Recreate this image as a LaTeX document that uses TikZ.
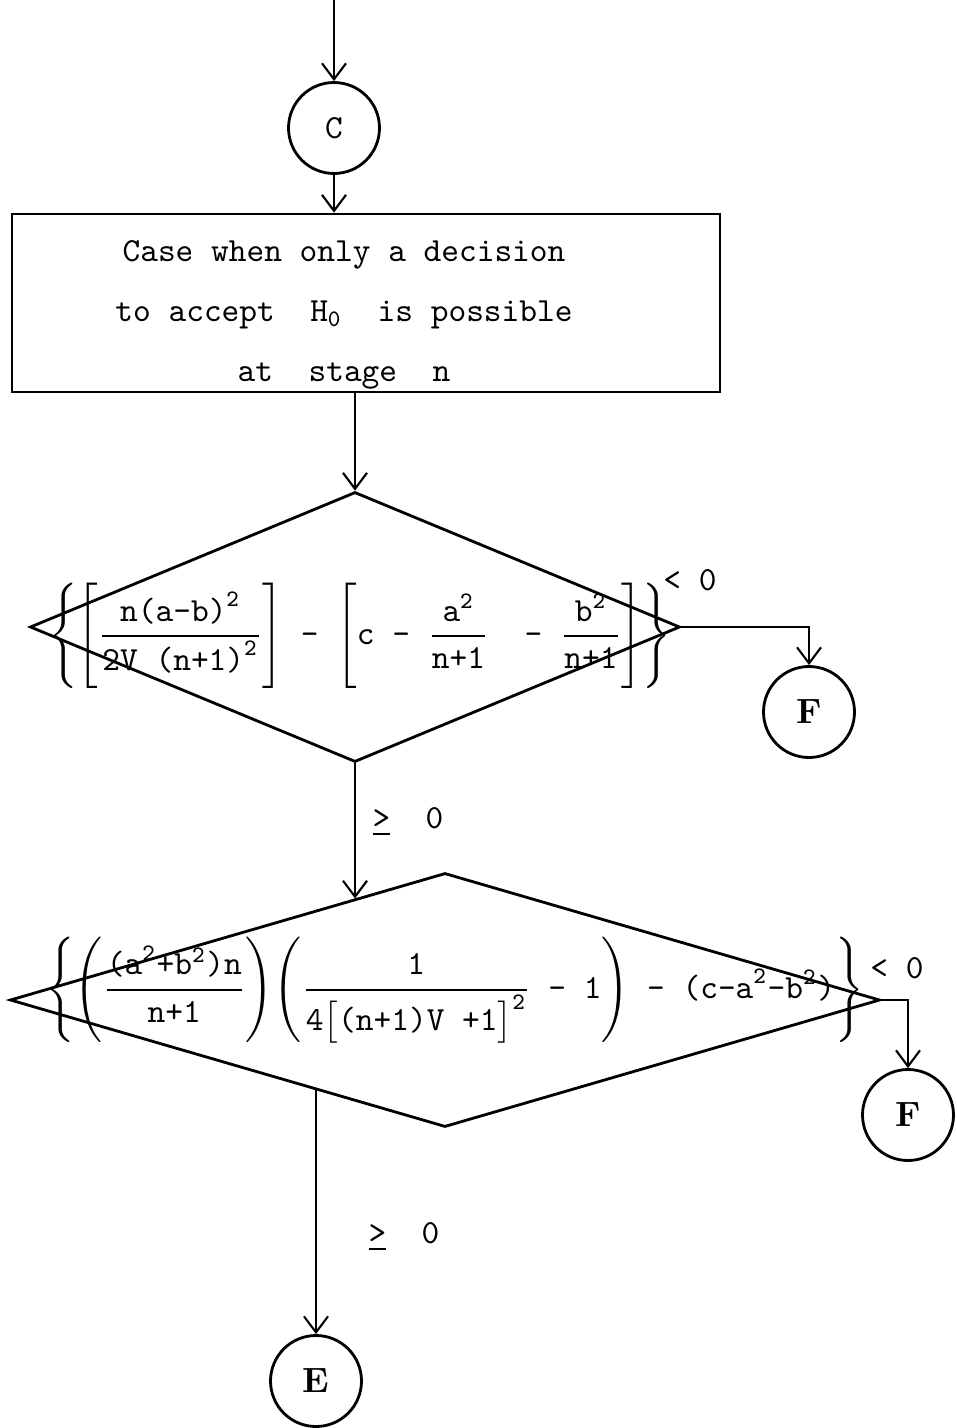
\documentclass[tikz,border=0pt]{standalone}
\usepackage{amsmath}
\usetikzlibrary{shapes.geometric, arrows.meta, positioning, calc}
\newcommand{\tx}[1]{\text{\ttfamily #1}}

\begin{document}
\begin{tikzpicture}[
    x=0.1mm, y=-0.1mm,
    font=\ttfamily\fontsize{9.6}{11.5}\selectfont,
    >={Straight Barb[length=1.6mm, width=2.4mm]},
    conn/.style    ={circle, draw, line width=0.8pt, minimum size=9.1mm, inner sep=0pt},
    procbox/.style ={rectangle, draw, line width=0.8pt, minimum width=70.8mm,
                     minimum height=17.8mm},
    boxtext/.style ={align=center, font=\ttfamily\fontsize{9.6}{17}\selectfont},
    decision/.style={diamond, draw, line width=0.8pt, inner sep=0pt},
    flow/.style    ={->, line width=0.6pt},
    lbl/.style     ={inner sep=1pt},
]
\useasboundingbox (0,0) rectangle (956,1428);

% ---- Entry ----
\coordinate (entry) at (334,0);
\node[conn] (c) at (334,128) {C};

\node[procbox] (case) at (366,303) {};
\node[boxtext] (casetxt) at (344,315)
   {Case when only a decision\\to accept~~H$_{\tx{0}}$~~is possible\\at~~stage~~n};

% ---- First test ----
\node[decision, minimum width=65mm, minimum height=27mm] (d1) at (355,627) {};
\node (q1) at (360,636)
   {$\displaystyle\Bigg\{\Bigg[\frac{\tx{n(a-b)}^{\tx{2}}}{\tx{2V (n+1)}^{\tx{2}}}\Bigg]\tx{ - }
     \Bigg[\tx{c - }\frac{\tx{a}^{\tx{2}}}{\tx{n+1}}\tx{ ~- }\frac{\tx{b}^{\tx{2}}}{\tx{n+1}}\Bigg]\Bigg\}$};
\node[conn, font=\rmfamily\bfseries] (f1) at (809,712) {F};

% ---- Second test ----
\node[decision, minimum width=87mm, minimum height=25.4mm] (d2) at (445,1000) {};
\node (q2) at (455,990)
   {$\displaystyle\Bigg\{\Bigg(\frac{\tx{(a}^{\tx{2}}\tx{+b}^{\tx{2}}\tx{)n}}{\tx{n+1}}\Bigg)
     \Bigg(\frac{\tx{1}}{\tx{4}\big[\tx{(n+1)V +1}\big]^{\tx{2}}}\tx{ - 1}\Bigg)
     \tx{ - (c-a}^{\tx{2}}\tx{-b}^{\tx{2}}\tx{)}\Bigg\}$};
\node[conn, font=\rmfamily\bfseries] (f2) at (908,1115) {F};

\node[conn, font=\rmfamily\bfseries] (e) at (316,1381) {E};

% ---- Labels ----
\node[lbl] (lt1) at (690,580) {< 0};
\node[lbl] (ge1) at (408,822) {\underline{>}~~0};
\node[lbl] (lt2) at (897,968) {< 0};
\node[lbl] (ge2) at (404,1237) {\underline{>}~~0};

% ---- Arrows ----
\draw[flow] (entry) -- (c);
\draw[flow] (c.south) -- (c.south |- case.north);
\draw[flow] (d1.north |- case.south) -- (d1.north);
\draw[flow] (d1.east) -| (f1);
\draw[flow] (d1.south) -- (d1.south |- d2.132);
\draw[flow] (d2.east) -| (f2);
\draw[flow] (e.north |- d2.215.9) -- (e.north);

\end{tikzpicture}
\end{document}
